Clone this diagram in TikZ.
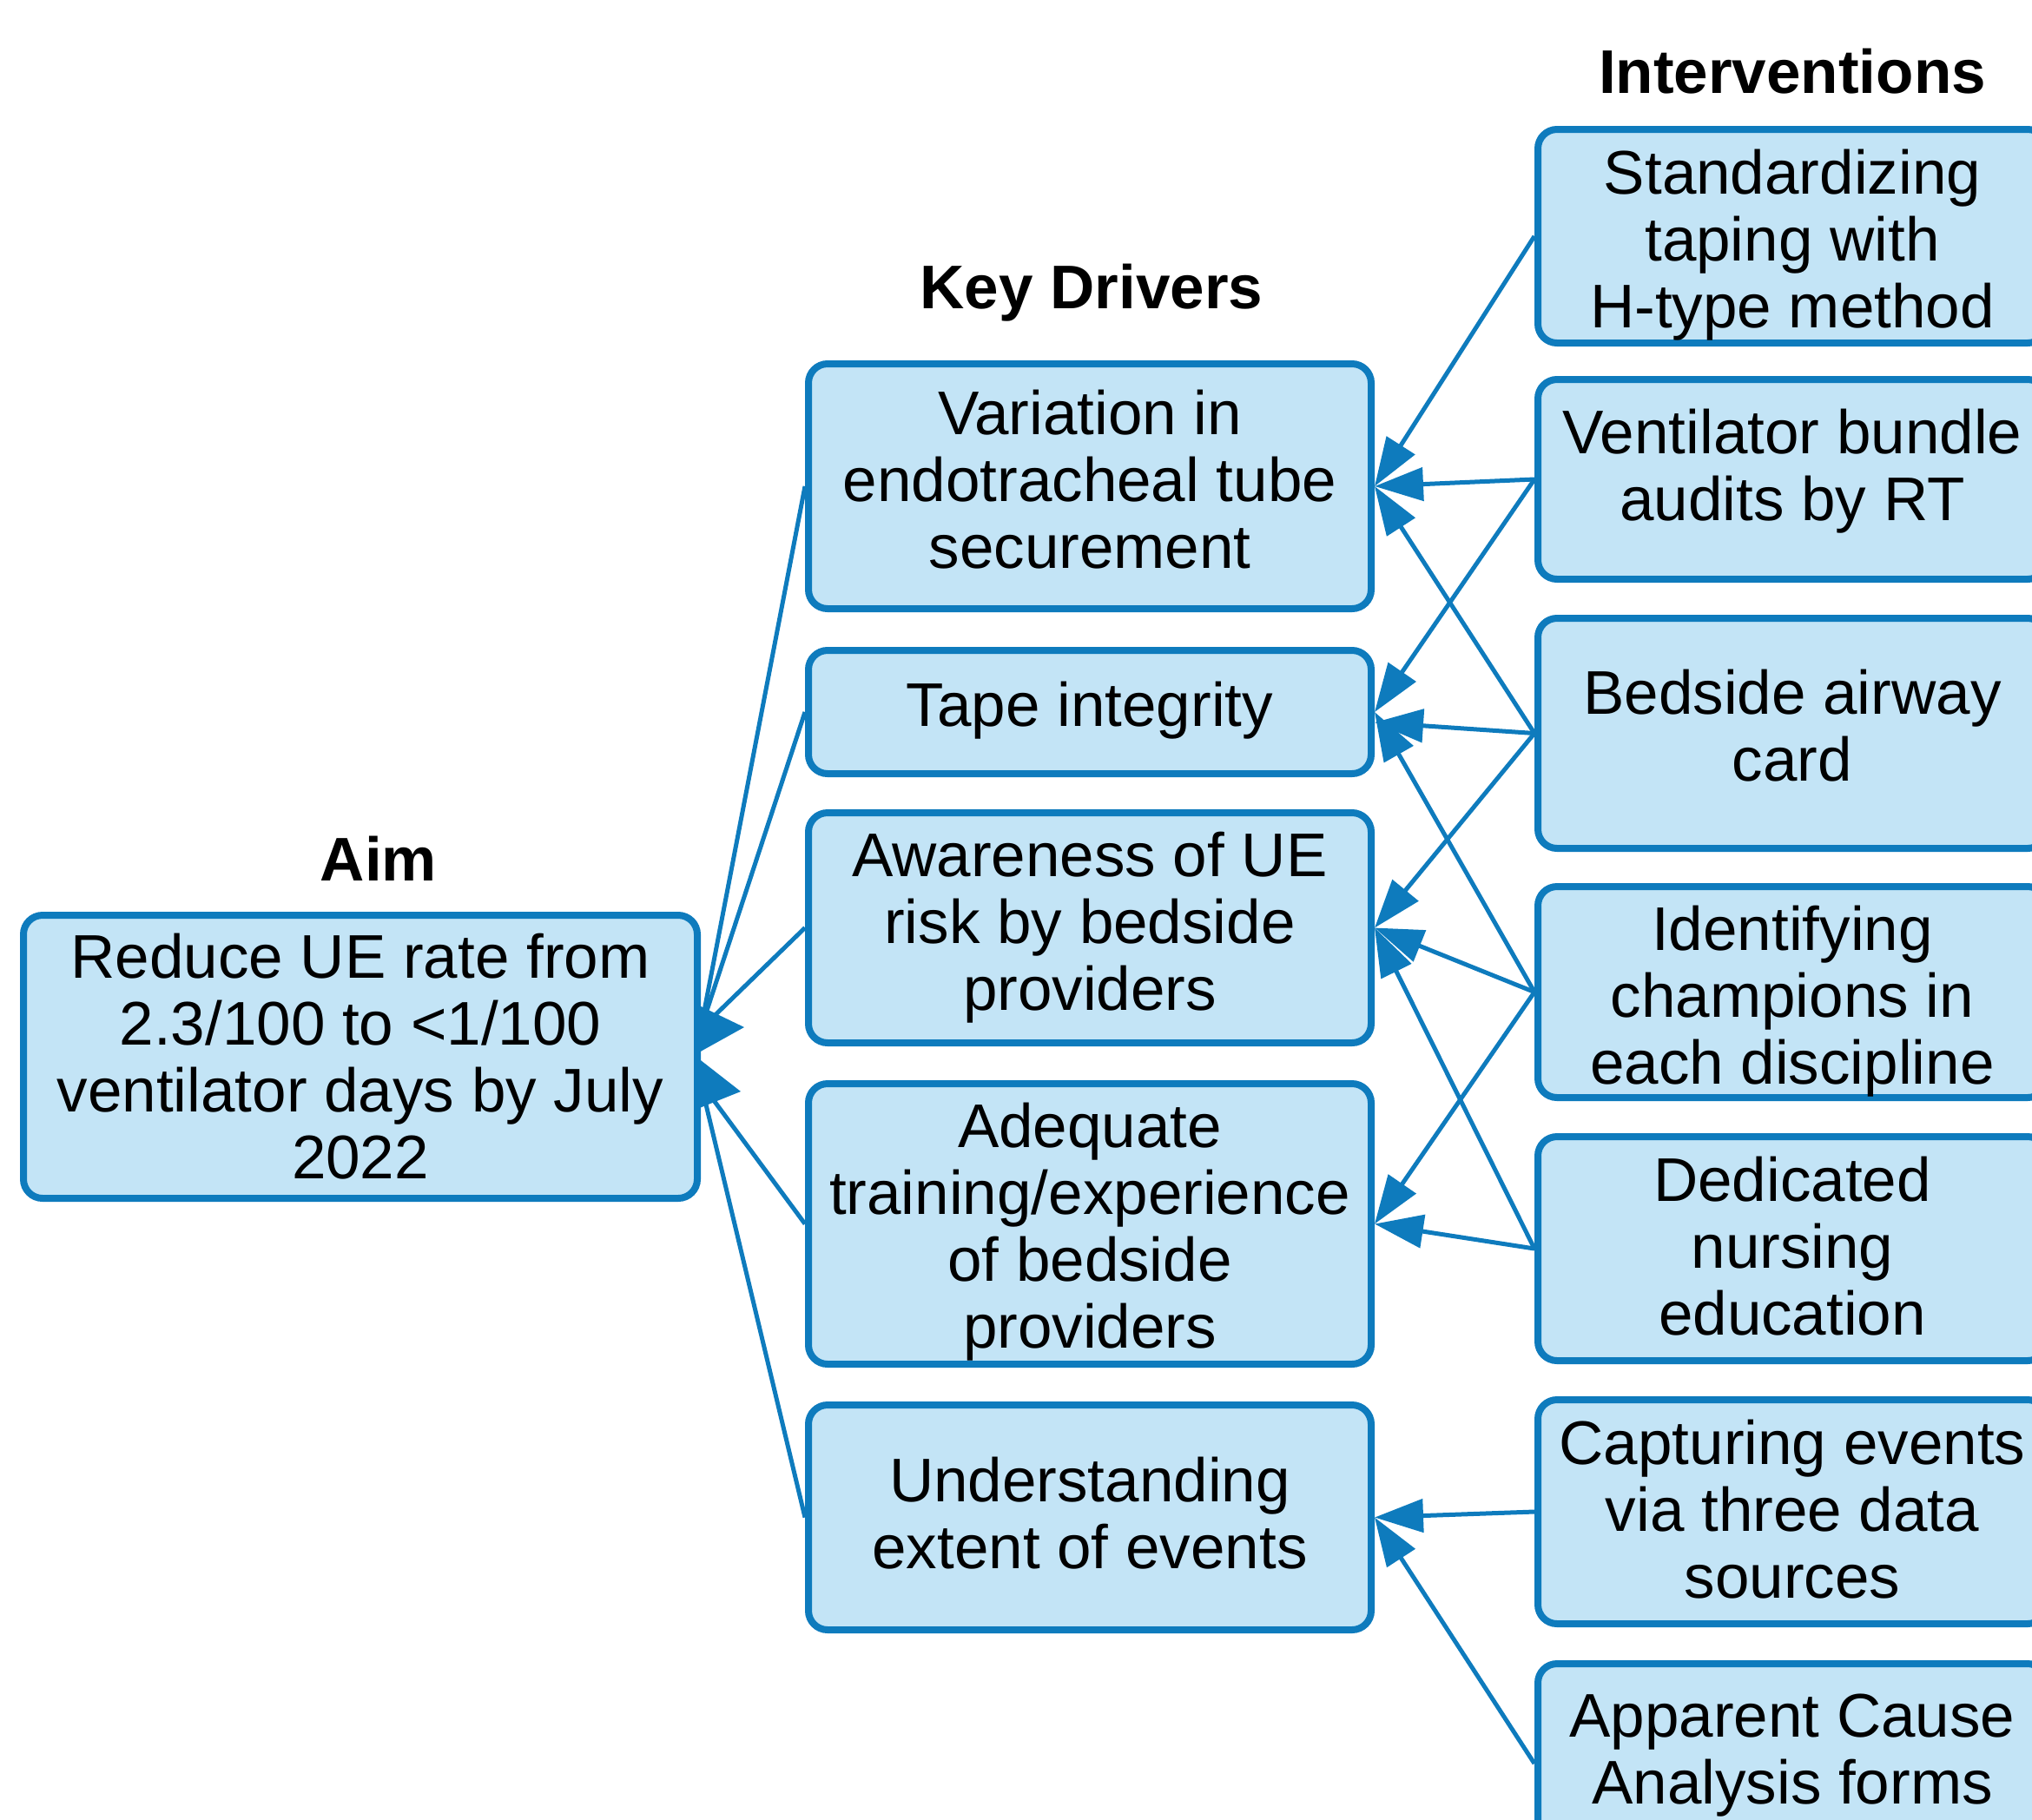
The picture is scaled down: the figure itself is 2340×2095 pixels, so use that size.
\documentclass[tikz,border=0pt]{standalone}
\usepackage{fontspec}
\setmainfont{Liberation Sans}
\usetikzlibrary{arrows.meta}
\definecolor{edgeblue}{HTML}{0E7BBD}
\definecolor{boxfill}{HTML}{C3E4F6}
\begin{document}
\begin{tikzpicture}[x=0.5pt,y=-0.5pt,
  box/.style={draw=edgeblue, fill=boxfill, line width=4pt, rounded corners=11pt, inner sep=0pt},
  kdbox/.style={box, minimum width=324pt},
  ivbox/.style={box, minimum width=293pt},
  txt/.style={align=center, inner sep=0pt, font=\fontsize{35.5}{38.5}\selectfont},
  head/.style={font=\fontsize{35.5}{38.5}\selectfont\bfseries},
  line/.style={draw=edgeblue, line width=2.5pt},
  conn/.style={line, -{Triangle[length=28pt,width=19pt]}}]
\useasboundingbox (0,0) rectangle (2340,2095);
\clip (0,0) rectangle (2340,2095);

% headers
\node[head] (haim) at (436,989) {Aim};
\node[head] (hkd) at (1257,337) {Key Drivers};
\node[head] (hiv) at (2064,82) {Interventions};

% aim
\node[box, minimum width=388pt, minimum height=163pt] (aim) at (415,1217) {};
\node[txt] (aimt) at (aim.center) {Reduce UE rate from\\2.3/100 to <1/100\\ventilator days by July\\2022};

% key drivers
\node[kdbox, minimum height=141pt] (kd1) at (1255,560) {};
\node[kdbox, minimum height=71pt] (kd2) at (1255,820) {};
\node[kdbox, minimum height=132.5pt] (kd3) at (1255,1068.5) {};
\node[kdbox, minimum height=161.5pt] (kd4) at (1255,1409.5) {};
\node[kdbox, minimum height=129.5pt] (kd5) at (1255,1747.5) {};
\node[txt] (kd1t) at ([yshift=3.7pt]kd1.center) {Variation in\\endotracheal tube\\securement};
\node[txt] (kd2t) at ([yshift=0.7pt]kd2.center) {Tape integrity};
\node[txt] (kd3t) at (kd3.center) {Awareness of UE\\risk by bedside\\providers};
\node[txt] (kd4t) at ([yshift=-4.5pt]kd4.center) {Adequate\\training/experience\\of bedside\\providers};
\node[txt] (kd5t) at ([yshift=2.6pt]kd5.center) {Understanding\\extent of events};

% interventions
\node[ivbox, minimum height=123pt] (iv1) at (2064,272) {};
\node[ivbox, minimum height=115pt] (iv2) at (2064,552) {};
\node[ivbox, minimum height=132.5pt] (iv3) at (2064,844.5) {};
\node[ivbox, minimum height=121.5pt] (iv4) at (2064,1142.5) {};
\node[ivbox, minimum height=129pt] (iv5) at (2064,1438) {};
\node[ivbox, minimum height=129pt] (iv6) at (2064,1741) {};
\node[ivbox, minimum height=115pt] (iv7) at (2064,2031) {};
\node[txt] (iv1t) at ([yshift=-5.2pt]iv1.center) {Standardizing\\taping with\\H-type method};
\node[txt] (iv2t) at ([yshift=4.5pt]iv2.center) {Ventilator bundle\\audits by RT};
\node[txt] (iv3t) at ([yshift=4.5pt]iv3.center) {Bedside airway\\card};
\node[txt] (iv4t) at ([yshift=-5.2pt]iv4.center) {Identifying\\champions in\\each discipline};
\node[txt] (iv5t) at ([yshift=1.5pt]iv5.center) {Dedicated\\nursing\\education};
\node[txt] (iv6t) at ([yshift=1.5pt]iv6.center) {Capturing events\\via three data\\sources};
\node[txt] (iv7t) at ([yshift=4.5pt]iv7.center) {Apparent Cause\\Analysis forms};

% aim connectors (heads sit flat on the aim box)
\coordinate (aimup) at ([yshift=16pt]aim.east);
\coordinate (aimdn) at ([yshift=-15pt]aim.east);
\draw[line] (kd1.west) -- (aimup);
\draw[line] (kd2.west) -- (aimup);
\draw[line] (kd3.west) -- (aimup);
\draw[line] (kd4.west) -- (aimdn);
\draw[line] (kd5.west) -- (aimdn);
\fill[edgeblue] ([shift={(-2pt,30pt)}]aim.east) -- ([shift={(25pt,17pt)}]aim.east)
  -- ([shift={(-2pt,2pt)}]aim.east) -- cycle;
\fill[edgeblue] ([shift={(-2pt,-0.5pt)}]aim.east) -- ([shift={(23pt,-20pt)}]aim.east)
  -- ([shift={(-2pt,-30pt)}]aim.east) -- cycle;

% intervention connectors
\draw[conn] (iv1.west) -- (kd1.east);
\draw[conn] (iv2.west) -- (kd1.east);
\draw[conn] (iv2.west) -- (kd2.east);
\draw[conn] (iv3.west) -- (kd1.east);
\draw[conn] (iv3.west) -- ([yshift=-6pt]kd2.east);
\draw[conn] (iv3.west) -- (kd3.east);
\draw[conn] (iv4.west) -- (kd2.east);
\draw[conn] (iv4.west) -- (kd3.east);
\draw[conn] (iv4.west) -- (kd4.east);
\draw[conn] (iv5.west) -- (kd3.east);
\draw[conn] (iv5.west) -- (kd4.east);
\draw[conn] (iv6.west) -- (kd5.east);
\draw[conn] (iv7.west) -- (kd5.east);
\end{tikzpicture}
\end{document}
